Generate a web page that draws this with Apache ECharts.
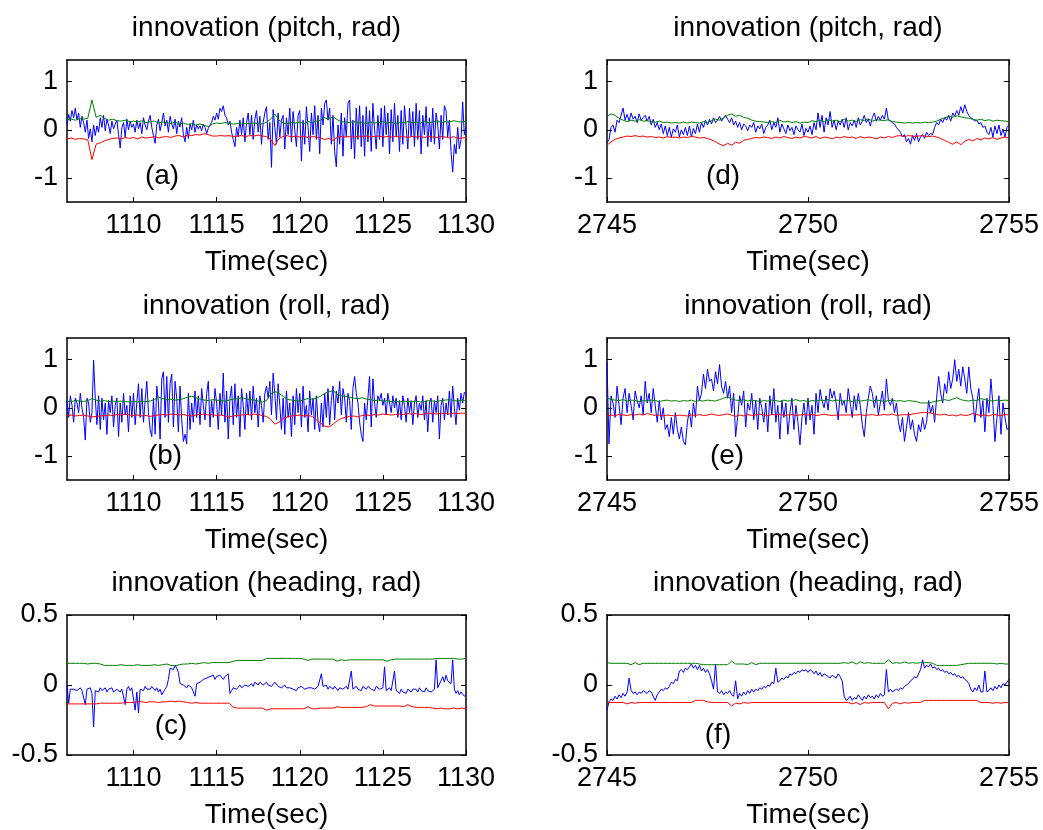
<!DOCTYPE html>
<html>
<head>
<meta charset="utf-8">
<title>innovation</title>
<script src="https://cdn.jsdelivr.net/npm/echarts@6/dist/echarts.min.js"></script>
<style>
  html, body { margin: 0; padding: 0; background: #fff; }
  #chart { width: 1043px; height: 830px; }
</style>
</head>
<body>
<div id="chart"></div>
<script>
// ---------- time spans (sec) ----------
const spanLeft = [1106, 1130];
const spanRight = [2745, 2755];

// ---------- tick values ----------
const ticksLeftX = [1110, 1115, 1120, 1125, 1130];
const ticksRightX = [2745, 2750, 2755];
const ticksAttitude = [-1, 0, 1];
const ticksHeading = [-0.5, 0, 0.5];

// ---------- (a) pitch innovation, 1106-1130 s ----------
const pitchInnovA = [
  0.10, 0.32, 0.18, 0.40, 0.25, 0.45, 0.20, 0.35, 0.05, 0.28,
  0.15, -0.05, 0.20, -0.18, 0.02, -0.25, 0.10, -0.12, 0.08, -0.05,
  0.25, 0.05, 0.30, -0.02, 0.22, 0.10, -0.08, 0.18, 0.02, 0.12,
  0.20, -0.10, -0.38, 0.05, 0.15, -0.15, 0.22, 0.00, 0.18, 0.05,
  0.12, -0.05, 0.20, 0.02, 0.15, -0.08, 0.25, 0.10, 0.00, 0.18,
  0.30, 0.05, -0.12, -0.28, 0.10, 0.22, -0.02, 0.15, 0.35, 0.08,
  0.20, -0.05, 0.28, 0.12, 0.02, 0.22, -0.08, 0.18, 0.06, 0.25,
  -0.10, -0.25, 0.05, -0.18, 0.12, 0.00, 0.20, -0.05, 0.10, 0.02,
  0.08, -0.02, 0.12, 0.05, -0.08, 0.03, 0.10, 0.15, 0.28, 0.20,
  0.35, 0.22, 0.45, 0.38, 0.50, 0.30, 0.25, 0.10, 0.18, -0.05,
  -0.20, -0.35, 0.05, -0.15, 0.20, -0.10, 0.25, -0.25, 0.15, 0.35,
  -0.10, 0.30, -0.20, 0.22, 0.40, -0.05, 0.28, -0.30, 0.15, 0.35,
  0.48, -0.20, 0.15, -0.78, 0.42, 0.05, -0.30, 0.35, -0.15, 0.20,
  0.30, -0.40, 0.25, -0.10, 0.45, -0.25, 0.38, 0.00, -0.35, 0.30,
  0.40, -0.65, 0.20, -0.30, 0.48, 0.05, -0.45, 0.35, -0.10, 0.50,
  -0.20, 0.30, -0.50, 0.45, 0.10, 0.55, 0.62, 0.20, 0.45, -0.30,
  0.30, -0.45, -0.77, 0.10, -0.30, 0.35, -0.55, 0.25, -0.15, 0.55,
  0.62, -0.40, 0.20, -0.60, 0.45, -0.20, 0.50, -0.35, 0.30, -0.55,
  0.48, -0.25, 0.40, -0.45, 0.55, 0.00, -0.40, 0.30, -0.20, 0.45,
  -0.35, 0.50, -0.10, 0.35, -0.50, 0.42, -0.25, 0.55, -0.15, 0.30,
  -0.45, 0.40, -0.30, 0.50, 0.05, -0.40, 0.45, -0.15, 0.38, -0.35,
  0.55, -0.20, 0.40, -0.50, 0.30, -0.10, 0.48, -0.35, 0.25, -0.25,
  0.45, -0.30, 0.35, 0.10, -0.40, 0.30, -0.20, 0.50, 0.40, -0.15,
  0.20, -0.45, -0.88, -0.30, -0.50, 0.05, -0.40, -0.20, 0.58, -0.10,
  0.05
];
const pitchUpperA = [
  0.21, 0.22, 0.20, 0.23, 0.22, 0.24, 0.62, 0.26, 0.30, 0.24, 0.20, 0.22,
  0.19, 0.18, 0.20, 0.17, 0.18, 0.16, 0.19, 0.15, 0.17, 0.18, 0.14, 0.16,
  0.15, 0.13, 0.16, 0.12, 0.14, 0.11, 0.13, 0.10, 0.12, 0.09, 0.07, 0.12,
  0.14, 0.13, 0.15, 0.13, 0.12, 0.13, 0.12, 0.13, 0.13, 0.14, 0.13, 0.12,
  0.16, 0.22, 0.33, 0.20, 0.14, 0.13, 0.15, 0.14, 0.16, 0.13, 0.17, 0.15,
  0.18, 0.20, 0.25, 0.22, 0.27, 0.21, 0.17, 0.16, 0.15, 0.17, 0.14, 0.15,
  0.13, 0.16, 0.14, 0.15, 0.17, 0.14, 0.16, 0.13, 0.15, 0.14, 0.17, 0.15,
  0.16, 0.14, 0.18, 0.15, 0.16, 0.19, 0.15, 0.17, 0.16, 0.19, 0.17, 0.16,
  0.18
];
const pitchLowerA = [
  -0.19, -0.17, -0.20, -0.18, -0.19, -0.21, -0.62, -0.30, -0.27, -0.23, -0.20, -0.18,
  -0.17, -0.19, -0.16, -0.18, -0.16, -0.19, -0.15, -0.17, -0.16, -0.14, -0.17, -0.15,
  -0.14, -0.16, -0.13, -0.12, -0.15, -0.11, -0.12, -0.10, -0.11, -0.08, -0.10, -0.13,
  -0.13, -0.12, -0.13, -0.12, -0.14, -0.13, -0.12, -0.14, -0.12, -0.13, -0.11, -0.13,
  -0.14, -0.20, -0.33, -0.18, -0.14, -0.12, -0.15, -0.13, -0.15, -0.14, -0.16, -0.14,
  -0.15, -0.17, -0.20, -0.18, -0.22, -0.16, -0.14, -0.15, -0.14, -0.16, -0.13, -0.14,
  -0.13, -0.15, -0.14, -0.13, -0.15, -0.14, -0.15, -0.14, -0.15, -0.14, -0.16, -0.14,
  -0.15, -0.14, -0.16, -0.14, -0.15, -0.16, -0.14, -0.15, -0.17, -0.14, -0.18, -0.17,
  -0.16
];

// ---------- (b) roll innovation, 1106-1130 s ----------
const rollInnovB = [
  0.15, -0.20, 0.25, 0.05, -0.30, 0.20, 0.10, -0.10, 0.30, 0.00,
  -0.20, -0.67, 0.20, 0.10, -0.30, -0.10, 0.99, 0.20, -0.35, 0.25,
  -0.45, 0.20, -0.25, 0.10, -0.55, 0.15, -0.10, 0.25, -0.40, 0.05,
  0.20, -0.60, 0.10, -0.30, 0.30, -0.15, 0.05, -0.50, 0.25, -0.20,
  0.30, -0.35, 0.10, 0.50, -0.20, 0.40, -0.30, 0.15, 0.55, -0.10,
  -0.45, -0.60, 0.20, -0.55, 0.45, 0.10, -0.65, 0.60, 0.75, -0.20,
  0.65, -0.30, 0.50, 0.70, -0.40, 0.55, 0.20, -0.50, 0.45, -0.25,
  -0.70, -0.55, -0.75, 0.30, -0.45, 0.10, -0.30, 0.35, -0.20, 0.25,
  -0.35, 0.40, 0.05, -0.25, 0.30, 0.55, -0.40, 0.15, -0.20, 0.40,
  0.10, -0.45, 0.30, -0.15, 0.72, -0.30, 0.35, -0.65, 0.20, 0.45,
  -0.35, 0.50, -0.20, 0.25, -0.60, 0.40, 0.05, -0.45, 0.30, -0.15,
  0.35, -0.25, 0.45, -0.10, 0.20, -0.40, 0.25, 0.05, -0.30, 0.30,
  0.45, 0.20, 0.55, -0.15, 0.72, 0.30, -0.25, 0.50, 0.05, -0.45,
  0.20, -0.55, 0.35, -0.20, 0.10, -0.60, 0.25, -0.35, 0.40, -0.10,
  0.30, -0.40, 0.45, -0.20, 0.05, -0.50, 0.35, -0.15, 0.20, -0.45,
  0.25, -0.30, -0.50, 0.10, -0.40, 0.30, -0.20, 0.40, -0.35, 0.15,
  0.45, -0.25, 0.35, 0.10, 0.55, -0.15, 0.40, 0.20, -0.30, 0.30,
  0.15, -0.45, 0.40, 0.65, 0.30, 0.10, -0.30, -0.55, -0.70, 0.10,
  -0.25, 0.20, 0.65, -0.40, 0.60, 0.10, -0.20, 0.25, 0.15, 0.30,
  0.05, 0.20, -0.15, 0.30, 0.10, -0.10, 0.25, 0.00, 0.20, -0.20,
  0.15, -0.25, 0.25, 0.05, -0.30, 0.20, -0.10, 0.15, -0.35, 0.10,
  0.25, -0.20, 0.10, -0.05, 0.25, -0.25, 0.15, -0.50, 0.10, 0.20,
  -0.30, 0.15, -0.10, 0.25, -0.65, 0.05, 0.20, -0.25, 0.10, -0.15,
  0.35, -0.20, 0.45, 0.00, -0.35, 0.20, -0.05, 0.30, 0.10, 0.32,
  0.30
];
const rollUpperB = [
  0.14, 0.13, 0.15, 0.14, 0.13, 0.15, 0.19, 0.16, 0.14, 0.15, 0.13, 0.14,
  0.13, 0.14, 0.13, 0.12, 0.13, 0.12, 0.14, 0.13, 0.14, 0.17, 0.22, 0.19,
  0.17, 0.18, 0.16, 0.17, 0.19, 0.22, 0.24, 0.21, 0.18, 0.16, 0.15, 0.17,
  0.16, 0.15, 0.14, 0.16, 0.18, 0.19, 0.21, 0.19, 0.17, 0.16, 0.14, 0.12,
  0.15, 0.28, 0.34, 0.30, 0.24, 0.18, 0.16, 0.15, 0.14, 0.17, 0.19, 0.18,
  0.20, 0.24, 0.30, 0.33, 0.36, 0.28, 0.25, 0.24, 0.22, 0.20, 0.19, 0.21,
  0.18, 0.17, 0.15, 0.16, 0.14, 0.15, 0.13, 0.14, 0.12, 0.14, 0.13, 0.12,
  0.14, 0.12, 0.13, 0.15, 0.14, 0.13, 0.15, 0.16, 0.17, 0.15, 0.14, 0.16,
  0.15
];
const rollLowerB = [
  -0.16, -0.15, -0.17, -0.16, -0.15, -0.17, -0.19, -0.18, -0.17, -0.16, -0.15, -0.16,
  -0.14, -0.15, -0.13, -0.15, -0.16, -0.15, -0.17, -0.16, -0.18, -0.16, -0.15, -0.14,
  -0.15, -0.13, -0.14, -0.15, -0.14, -0.16, -0.17, -0.15, -0.14, -0.13, -0.15, -0.14,
  -0.16, -0.15, -0.17, -0.19, -0.17, -0.16, -0.15, -0.14, -0.15, -0.13, -0.14, -0.16,
  -0.18, -0.24, -0.34, -0.30, -0.22, -0.19, -0.17, -0.16, -0.15, -0.17, -0.16, -0.18,
  -0.25, -0.32, -0.38, -0.40, -0.34, -0.27, -0.22, -0.20, -0.18, -0.17, -0.19, -0.16,
  -0.15, -0.16, -0.14, -0.15, -0.13, -0.14, -0.15, -0.14, -0.13, -0.14, -0.12, -0.13,
  -0.12, -0.14, -0.13, -0.11, -0.12, -0.13, -0.11, -0.12, -0.13, -0.11, -0.12, -0.11,
  -0.12
];

// ---------- (c) heading innovation, 1106-1130 s ----------
const headInnovC = [
  0.00, -0.13, -0.03, -0.02, -0.03, -0.02, -0.04, -0.03, -0.02, -0.04,
  -0.03, -0.14, -0.03, -0.04, -0.02, -0.06, -0.30, -0.04, -0.03, -0.05,
  -0.02, -0.04, -0.03, -0.02, -0.05, -0.03, -0.04, -0.02, -0.05, -0.04,
  -0.03, -0.04, -0.05, -0.03, -0.04, -0.14, -0.03, -0.01, -0.04, -0.02,
  -0.03, -0.18, -0.05, -0.20, -0.03, -0.02, -0.04, -0.01, -0.03, -0.02,
  -0.03, -0.01, -0.02, -0.04, -0.02, -0.05, -0.03, -0.07, -0.05, -0.03,
  -0.01, 0.04, 0.12, 0.13, 0.11, 0.14, 0.12, 0.09, 0.01, 0.02,
  0.00, -0.01, -0.02, 0.00, -0.01, -0.02, -0.01, -0.08, 0.01, 0.00,
  0.02, 0.01, 0.04, 0.03, 0.05, 0.04, 0.06, 0.05, 0.07, 0.04,
  0.06, 0.05, 0.07, 0.06, 0.04, 0.06, 0.07, 0.08, -0.06, -0.04,
  -0.02, -0.01, -0.03, -0.02, 0.00, -0.02, -0.01, 0.00, 0.01, -0.01,
  0.00, 0.01, -0.01, 0.02, 0.01, 0.00, 0.02, 0.01, 0.00, 0.01,
  0.02, 0.00, 0.01, -0.01, 0.00, 0.02, 0.01, -0.01, 0.00, -0.02,
  -0.01, 0.00, -0.02, -0.03, -0.02, -0.01, -0.03, -0.02, -0.04, -0.02,
  -0.03, -0.01, -0.02, -0.03, -0.04, -0.02, -0.03, -0.02, -0.01, -0.03,
  -0.02, -0.01, -0.02, 0.08, -0.01, -0.02, 0.00, -0.03, -0.01, -0.02,
  -0.03, -0.01, -0.02, -0.04, -0.02, -0.01, -0.03, -0.02, -0.01, -0.03,
  -0.02, 0.10, -0.03, -0.02, -0.01, -0.03, -0.02, -0.04, -0.01, -0.02,
  -0.03, -0.01, -0.02, -0.03, -0.02, -0.04, -0.01, -0.02, -0.03, -0.04,
  -0.02, 0.13, -0.04, -0.03, -0.02, -0.04, -0.03, 0.10, -0.04, -0.05,
  -0.06, -0.03, -0.05, -0.04, -0.06, -0.03, -0.04, -0.05, -0.03, -0.04,
  -0.03, -0.05, -0.02, -0.04, -0.03, -0.05, -0.02, -0.04, -0.03, -0.05,
  -0.04, -0.03, 0.18, -0.02, -0.01, 0.03, 0.06, 0.02, 0.07, 0.03,
  0.04, 0.01, 0.18, -0.03, -0.06, -0.04, -0.07, -0.05, -0.06, -0.08,
  -0.07
];
const headUpperC = [
  0.155, 0.155, 0.155, 0.155, 0.155, 0.150, 0.155, 0.155, 0.150, 0.140, 0.140, 0.140,
  0.140, 0.145, 0.140, 0.140, 0.140, 0.145, 0.140, 0.140, 0.140, 0.145, 0.140, 0.145,
  0.150, 0.140, 0.135, 0.145, 0.150, 0.150, 0.155, 0.150, 0.155, 0.160, 0.155, 0.160,
  0.160, 0.160, 0.160, 0.160, 0.170, 0.175, 0.175, 0.175, 0.175, 0.175, 0.175, 0.175,
  0.190, 0.190, 0.190, 0.190, 0.190, 0.190, 0.190, 0.190, 0.190, 0.185, 0.175, 0.185,
  0.185, 0.185, 0.185, 0.185, 0.185, 0.170, 0.180, 0.175, 0.180, 0.180, 0.180, 0.180,
  0.180, 0.180, 0.180, 0.180, 0.180, 0.170, 0.180, 0.185, 0.185, 0.185, 0.185, 0.185,
  0.185, 0.185, 0.185, 0.185, 0.185, 0.190, 0.190, 0.190, 0.190, 0.190, 0.185, 0.185,
  0.190
];
const headLowerC = [
  -0.135, -0.135, -0.135, -0.135, -0.135, -0.135, -0.135, -0.135, -0.130, -0.130, -0.130, -0.130,
  -0.130, -0.130, -0.125, -0.125, -0.125, -0.120, -0.120, -0.125, -0.120, -0.120, -0.125, -0.120,
  -0.120, -0.115, -0.120, -0.115, -0.120, -0.125, -0.130, -0.125, -0.130, -0.130, -0.130, -0.130,
  -0.130, -0.130, -0.130, -0.130, -0.160, -0.165, -0.165, -0.165, -0.165, -0.165, -0.165, -0.165,
  -0.180, -0.170, -0.170, -0.170, -0.170, -0.170, -0.170, -0.170, -0.170, -0.170, -0.155, -0.170,
  -0.170, -0.165, -0.165, -0.165, -0.165, -0.155, -0.160, -0.160, -0.160, -0.160, -0.160, -0.160,
  -0.155, -0.140, -0.150, -0.150, -0.150, -0.150, -0.150, -0.150, -0.150, -0.155, -0.140, -0.155,
  -0.160, -0.160, -0.160, -0.160, -0.165, -0.170, -0.165, -0.170, -0.170, -0.165, -0.170, -0.165,
  -0.170
];

// ---------- (d) pitch innovation, 2745-2755 s ----------
const pitchInnovD = [
  -0.27, -0.20, 0.05, 0.10, -0.05, 0.20, 0.15, 0.30, 0.45, 0.20, 0.32, 0.18, 0.35, 0.22, 0.28, 0.15, 0.33, 0.20, 0.25, 0.30,
  0.18, 0.28, 0.10, 0.22, 0.05, 0.15, 0.00, 0.12, -0.08, 0.08, -0.12, 0.05, -0.15, 0.02, -0.05, 0.10, -0.15, 0.00, -0.10, 0.05,
  -0.12, 0.08, -0.15, 0.03, -0.08, 0.12, -0.05, 0.15, 0.05, 0.20, 0.10, 0.22, 0.12, 0.25, 0.15, 0.20, 0.28, 0.18, 0.25, 0.30,
  0.22, 0.15, 0.25, 0.10, 0.18, 0.05, 0.15, 0.00, 0.12, 0.08, -0.02, 0.10, 0.05, 0.15, -0.05, 0.08, 0.02, 0.12, -0.08, 0.05,
  0.10, 0.20, 0.00, 0.15, 0.05, 0.25, -0.05, 0.12, 0.02, -0.08, 0.10, -0.02, 0.05, -0.10, 0.08, 0.00, -0.05, 0.12, -0.12, 0.03,
  -0.05, 0.08, -0.10, 0.15, 0.00, 0.35, 0.05, 0.30, -0.05, 0.25, 0.10, 0.38, 0.05, 0.20, 0.00, 0.18, 0.10, 0.22, 0.05, 0.25,
  0.00, 0.15, 0.08, 0.20, 0.05, 0.25, 0.10, 0.18, 0.30, 0.15, 0.22, 0.08, 0.25, 0.35, 0.18, 0.28, 0.20, 0.30, 0.22, 0.45,
  0.20, 0.18, 0.15, 0.12, 0.05, 0.00, -0.05, -0.15, -0.10, -0.25, -0.18, -0.30, -0.12, -0.22, -0.08, -0.25, -0.15, -0.10, -0.18, -0.05,
  -0.12, -0.08, -0.10, 0.05, 0.15, 0.10, 0.22, 0.15, 0.25, 0.20, 0.30, 0.18, 0.35, 0.28, 0.40, 0.30, 0.48, 0.35, 0.52, 0.38,
  0.30, 0.25, 0.22, 0.18, 0.20, 0.12, 0.15, 0.05, 0.08, -0.05, -0.10, 0.05, -0.15, 0.08, -0.08, 0.10, -0.12, 0.02, -0.15, 0.05,
  0.10
];
const pitchUpperD = [
  0.28, 0.33, 0.30, 0.24, 0.20, 0.17, 0.20, 0.18, 0.21, 0.18,
  0.19, 0.17, 0.16, 0.18, 0.15, 0.16, 0.14, 0.15, 0.14, 0.16,
  0.14, 0.16, 0.15, 0.14, 0.17, 0.15, 0.19, 0.22, 0.20, 0.25,
  0.30, 0.33, 0.28, 0.30, 0.26, 0.24, 0.20, 0.18, 0.17, 0.16,
  0.15, 0.17, 0.15, 0.20, 0.16, 0.18, 0.15, 0.17, 0.14, 0.16,
  0.15, 0.19, 0.17, 0.20, 0.16, 0.21, 0.18, 0.20, 0.17, 0.22,
  0.18, 0.20, 0.17, 0.21, 0.19, 0.23, 0.18, 0.21, 0.20, 0.19,
  0.21, 0.17, 0.16, 0.15, 0.14, 0.15, 0.14, 0.15, 0.14, 0.16,
  0.15, 0.16, 0.18, 0.22, 0.25, 0.28, 0.26, 0.29, 0.27, 0.25,
  0.24, 0.22, 0.20, 0.22, 0.19, 0.21, 0.18, 0.20, 0.19, 0.18,
  0.17
];
const pitchLowerD = [
  -0.32, -0.25, -0.20, -0.17, -0.15, -0.13, -0.14, -0.12, -0.14, -0.13,
  -0.15, -0.14, -0.16, -0.15, -0.17, -0.14, -0.16, -0.15, -0.17, -0.15,
  -0.16, -0.14, -0.15, -0.17, -0.16, -0.18, -0.21, -0.25, -0.30, -0.33,
  -0.28, -0.32, -0.26, -0.28, -0.22, -0.20, -0.18, -0.16, -0.17, -0.15,
  -0.16, -0.18, -0.15, -0.17, -0.14, -0.16, -0.18, -0.15, -0.17, -0.14,
  -0.15, -0.17, -0.14, -0.18, -0.15, -0.16, -0.19, -0.15, -0.17, -0.14,
  -0.16, -0.15, -0.18, -0.14, -0.17, -0.15, -0.16, -0.19, -0.15, -0.17,
  -0.14, -0.16, -0.13, -0.12, -0.14, -0.12, -0.13, -0.14, -0.12, -0.13,
  -0.14, -0.13, -0.15, -0.18, -0.22, -0.26, -0.30, -0.25, -0.31, -0.24,
  -0.20, -0.23, -0.18, -0.21, -0.17, -0.19, -0.16, -0.20, -0.17, -0.15,
  -0.17
];

// ---------- (e) roll innovation, 2745-2755 s ----------
const rollInnovE = [
  0.95, -0.75, 0.25, 0.10, -0.20, 0.45, 0.05, -0.35, 0.20, 0.40, -0.10, 0.30, 0.05, -0.25, 0.35, 0.15, 0.00, 0.25, -0.15, 0.55,
  0.10, 0.30, -0.10, 0.40, 0.05, -0.30, 0.15, -0.25, 0.00, -0.45, -0.35, -0.60, -0.20, -0.55, -0.10, -0.45, -0.65, -0.40, -0.70, -0.77,
  -0.30, -0.05, -0.40, 0.10, -0.20, 0.45, 0.15, 0.30, 0.70, 0.40, 0.80, 0.55, 0.60, 0.35, 0.75, 0.50, 0.90, 0.45, 0.30, 0.55,
  0.20, 0.45, -0.10, 0.30, -0.60, -0.20, 0.25, 0.05, 0.35, -0.40, 0.10, -0.05, 0.30, -0.25, 0.15, -0.45, 0.20, 0.00, -0.30, 0.10,
  -0.50, 0.25, -0.15, 0.40, -0.30, 0.05, -0.65, 0.15, -0.20, 0.10, -0.55, -0.10, 0.20, -0.45, 0.05, -0.30, -0.77, -0.20, 0.10, -0.35,
  0.20, -0.25, 0.05, -0.55, 0.30, -0.10, 0.38, 0.15, 0.00, 0.25, -0.05, 0.40, 0.20, 0.35, 0.10, -0.25, 0.30, 0.05, 0.15, -0.10,
  0.40, 0.10, -0.20, 0.25, -0.05, 0.30, 0.05, -0.35, -0.60, -0.10, 0.20, 0.45, 0.30, 0.00, 0.25, -0.15, 0.10, 0.35, -0.05, 0.60,
  0.15, 0.05, 0.20, -0.10, 0.10, -0.30, -0.50, -0.20, -0.70, -0.40, -0.10, -0.45, -0.25, -0.55, -0.70, -0.35, -0.50, -0.20, -0.45, -0.30,
  0.15, -0.10, 0.05, -0.30, 0.20, 0.65, 0.30, 0.10, 0.50, 0.30, 0.75, 0.40, 0.60, 1.00, 0.55, 0.80, 0.45, 0.85, 0.60, 0.30,
  0.85, 0.40, 0.20, -0.30, 0.10, 0.40, -0.20, 0.15, -0.50, 0.20, -0.10, 0.60, 0.05, -0.70, -0.20, 0.25, -0.55, 0.10, -0.20, -0.45,
  -0.40
];
const rollUpperE = [
  0.21, 0.17, 0.16, 0.15, 0.17, 0.14, 0.16, 0.15, 0.13, 0.15,
  0.14, 0.16, 0.15, 0.13, 0.15, 0.16, 0.14, 0.15, 0.13, 0.15,
  0.14, 0.16, 0.13, 0.15, 0.14, 0.16, 0.15, 0.14, 0.17, 0.20,
  0.23, 0.18, 0.16, 0.15, 0.17, 0.14, 0.16, 0.15, 0.13, 0.15,
  0.14, 0.16, 0.15, 0.13, 0.16, 0.14, 0.15, 0.17, 0.14, 0.15,
  0.13, 0.15, 0.14, 0.16, 0.15, 0.17, 0.14, 0.16, 0.15, 0.14,
  0.15, 0.13, 0.16, 0.14, 0.15, 0.17, 0.14, 0.16, 0.15, 0.13,
  0.15, 0.16, 0.14, 0.15, 0.13, 0.15, 0.14, 0.13, 0.10, 0.10,
  0.10, 0.12, 0.14, 0.15, 0.17, 0.15, 0.18, 0.21, 0.17, 0.15,
  0.14, 0.16, 0.15, 0.19, 0.17, 0.15, 0.14, 0.16, 0.15, 0.16,
  0.15
];
const rollLowerE = [
  -0.17, -0.15, -0.16, -0.14, -0.15, -0.16, -0.14, -0.15, -0.13, -0.15,
  -0.12, -0.14, -0.16, -0.15, -0.17, -0.15, -0.16, -0.17, -0.15, -0.16,
  -0.17, -0.15, -0.16, -0.14, -0.16, -0.15, -0.13, -0.15, -0.16, -0.14,
  -0.13, -0.15, -0.18, -0.15, -0.17, -0.14, -0.16, -0.15, -0.13, -0.15,
  -0.16, -0.14, -0.15, -0.13, -0.16, -0.15, -0.14, -0.16, -0.15, -0.14,
  -0.15, -0.14, -0.16, -0.15, -0.13, -0.15, -0.16, -0.15, -0.15, -0.15,
  -0.15, -0.15, -0.15, -0.14, -0.16, -0.15, -0.14, -0.16, -0.15, -0.14,
  -0.15, -0.13, -0.16, -0.15, -0.14, -0.15, -0.13, -0.12, -0.10, -0.10,
  -0.10, -0.12, -0.14, -0.15, -0.13, -0.16, -0.15, -0.17, -0.14, -0.16,
  -0.15, -0.12, -0.14, -0.16, -0.15, -0.17, -0.14, -0.15, -0.16, -0.14,
  -0.15
];

// ---------- (f) heading innovation, 2745-2755 s ----------
const headInnovF = [
  -0.18, -0.12, -0.10, -0.11, -0.08, -0.10, -0.07, -0.09, -0.06, -0.08, -0.05, 0.05, -0.04, -0.06, -0.05, -0.07, -0.05, -0.06, -0.04, -0.05,
  -0.06, -0.04, -0.05, -0.08, -0.11, -0.07, -0.05, -0.03, -0.04, -0.02, -0.03, -0.01, 0.02, 0.01, 0.04, 0.03, 0.10, 0.11, 0.09, 0.12,
  0.11, 0.13, 0.15, 0.12, 0.14, 0.11, 0.14, 0.10, 0.12, 0.09, 0.11, 0.08, 0.03, -0.03, 0.15, -0.05, -0.06, -0.04, -0.07, -0.05,
  -0.06, -0.04, -0.07, -0.08, 0.03, -0.10, -0.06, -0.08, -0.05, -0.07, -0.04, -0.06, -0.03, -0.05, -0.03, -0.04, -0.02, -0.03, -0.01, -0.02,
  0.00, -0.01, 0.02, 0.01, 0.12, 0.02, 0.03, 0.05, 0.04, 0.06, 0.05, 0.08, 0.07, 0.09, 0.08, 0.10, 0.09, 0.11, 0.10, 0.11,
  0.09, 0.11, 0.10, 0.08, 0.10, 0.07, 0.09, 0.06, 0.08, 0.07, 0.06, 0.05, 0.07, 0.06, 0.05, 0.08, 0.06, 0.03, -0.08, -0.11,
  -0.10, -0.08, -0.11, -0.09, -0.10, -0.07, -0.09, -0.11, -0.08, -0.10, -0.07, -0.09, -0.08, -0.10, -0.07, -0.09, -0.06, -0.08, -0.07, 0.11,
  -0.05, -0.03, -0.05, -0.04, -0.03, -0.04, -0.02, -0.03, -0.01, 0.00, 0.01, 0.03, 0.04, 0.06, 0.05, 0.08, 0.11, 0.18, 0.12, 0.14,
  0.13, 0.15, 0.12, 0.13, 0.11, 0.12, 0.10, 0.11, 0.09, 0.10, 0.08, 0.09, 0.07, 0.08, 0.06, 0.07, 0.05, 0.06, 0.04, 0.03,
  0.01, -0.03, -0.05, -0.02, -0.04, 0.00, -0.05, -0.05, 0.10, -0.05, -0.04, -0.02, -0.04, -0.01, -0.03, 0.00, -0.02, 0.01, 0.00, 0.02,
  0.04
];
const headUpperF = [
  0.160, 0.155, 0.155, 0.155, 0.155, 0.155, 0.145, 0.160, 0.145, 0.155,
  0.155, 0.155, 0.155, 0.155, 0.155, 0.155, 0.155, 0.155, 0.155, 0.155,
  0.155, 0.155, 0.155, 0.150, 0.145, 0.145, 0.145, 0.145, 0.145, 0.145,
  0.145, 0.170, 0.150, 0.150, 0.150, 0.145, 0.160, 0.145, 0.155, 0.155,
  0.155, 0.155, 0.155, 0.155, 0.155, 0.155, 0.155, 0.155, 0.155, 0.155,
  0.155, 0.155, 0.155, 0.155, 0.155, 0.155, 0.155, 0.155, 0.155, 0.160,
  0.155, 0.165, 0.150, 0.165, 0.155, 0.160, 0.155, 0.155, 0.155, 0.155,
  0.180, 0.155, 0.160, 0.155, 0.165, 0.155, 0.160, 0.155, 0.160, 0.160,
  0.160, 0.155, 0.140, 0.140, 0.140, 0.140, 0.140, 0.140, 0.145, 0.150,
  0.155, 0.155, 0.155, 0.155, 0.155, 0.155, 0.155, 0.150, 0.155, 0.150,
  0.150
];
const headLowerF = [
  -0.120, -0.125, -0.125, -0.125, -0.125, -0.135, -0.125, -0.130, -0.125, -0.125,
  -0.125, -0.125, -0.125, -0.125, -0.125, -0.125, -0.125, -0.125, -0.125, -0.125,
  -0.125, -0.125, -0.110, -0.110, -0.110, -0.120, -0.125, -0.125, -0.125, -0.125,
  -0.125, -0.150, -0.130, -0.135, -0.125, -0.130, -0.125, -0.125, -0.125, -0.125,
  -0.125, -0.125, -0.125, -0.125, -0.125, -0.125, -0.125, -0.125, -0.125, -0.125,
  -0.125, -0.125, -0.125, -0.125, -0.125, -0.125, -0.125, -0.125, -0.125, -0.125,
  -0.125, -0.135, -0.125, -0.140, -0.125, -0.130, -0.125, -0.125, -0.125, -0.125,
  -0.170, -0.130, -0.125, -0.135, -0.125, -0.130, -0.125, -0.125, -0.125, -0.110,
  -0.110, -0.110, -0.110, -0.110, -0.110, -0.110, -0.110, -0.110, -0.110, -0.110,
  -0.110, -0.110, -0.110, -0.125, -0.125, -0.125, -0.130, -0.125, -0.130, -0.125,
  -0.125
];

// ---------- panel layout ----------
const FONT = '"Liberation Sans", Arial, Helvetica, sans-serif';
const BLUE = '#0000ff', GREEN = '#008000', RED = '#ff0000';

const panels = [
  { title: 'innovation (pitch, rad)', tag: '(a)', tagAt: [162, 176],
    grid: { left: 67, top: 60, width: 399, height: 142 },
    span: spanLeft, xTicks: ticksLeftX, yRange: [-1.5, 1.45], yTicks: ticksAttitude,
    innov: pitchInnovA, upper: pitchUpperA, lower: pitchLowerA },
  { title: 'innovation (pitch, rad)', tag: '(d)', tagAt: [723, 176],
    grid: { left: 607, top: 60, width: 402, height: 142 },
    span: spanRight, xTicks: ticksRightX, yRange: [-1.5, 1.45], yTicks: ticksAttitude,
    innov: pitchInnovD, upper: pitchUpperD, lower: pitchLowerD },
  { title: 'innovation (roll, rad)', tag: '(b)', tagAt: [165, 456],
    grid: { left: 67, top: 338, width: 399, height: 142 },
    span: spanLeft, xTicks: ticksLeftX, yRange: [-1.5, 1.45], yTicks: ticksAttitude,
    innov: rollInnovB, upper: rollUpperB, lower: rollLowerB },
  { title: 'innovation (roll, rad)', tag: '(e)', tagAt: [727, 456],
    grid: { left: 607, top: 338, width: 402, height: 142 },
    span: spanRight, xTicks: ticksRightX, yRange: [-1.5, 1.45], yTicks: ticksAttitude,
    innov: rollInnovE, upper: rollUpperE, lower: rollLowerE },
  { title: 'innovation (heading, rad)', tag: '(c)', tagAt: [171, 726],
    grid: { left: 67, top: 615, width: 399, height: 140 },
    span: spanLeft, xTicks: ticksLeftX, yRange: [-0.5, 0.5], yTicks: ticksHeading,
    innov: headInnovC, upper: headUpperC, lower: headLowerC },
  { title: 'innovation (heading, rad)', tag: '(f)', tagAt: [718, 735],
    grid: { left: 607, top: 615, width: 402, height: 140 },
    span: spanRight, xTicks: ticksRightX, yRange: [-0.5, 0.5], yTicks: ticksHeading,
    innov: headInnovF, upper: headUpperF, lower: headLowerF }
];

// samples are evenly spaced over the panel's time span
function toPoints(values, span) {
  const dt = (span[1] - span[0]) / (values.length - 1);
  return values.map((v, i) => [span[0] + i * dt, v]);
}

// plain numbers, no thousands separators
const plain = (v) => String(v);

const frameLine = { show: true, onZero: false, lineStyle: { color: '#000', width: 1.5 } };
const innerTick = (vals) => ({ show: true, inside: true, length: 5, customValues: vals,
  lineStyle: { color: '#000', width: 1 } });

const grids = [], xAxes = [], yAxes = [], series = [], graphics = [];

panels.forEach((p, k) => {
  grids.push(Object.assign({ containLabel: false, show: false }, p.grid));
  // bottom axis with labels + top mirror axis
  xAxes.push({
    type: 'value', gridIndex: k, position: 'bottom', min: p.span[0], max: p.span[1],
    axisLine: frameLine, axisTick: innerTick(p.xTicks), splitLine: { show: false },
    axisLabel: { customValues: p.xTicks, formatter: plain, margin: 10, fontSize: 27, color: '#000',
      fontFamily: FONT, hideOverlap: false, showMinLabel: true, showMaxLabel: true },
    name: 'Time(sec)', nameLocation: 'middle', nameGap: 46,
    nameTextStyle: { fontSize: 28, color: '#000', fontFamily: FONT }
  });
  xAxes.push({
    type: 'value', gridIndex: k, position: 'top', min: p.span[0], max: p.span[1],
    axisLine: frameLine, axisTick: innerTick(p.xTicks), splitLine: { show: false },
    axisLabel: { show: false }
  });
  // left axis with labels + right mirror axis
  yAxes.push({
    type: 'value', gridIndex: k, position: 'left', min: p.yRange[0], max: p.yRange[1],
    axisLine: frameLine, axisTick: innerTick(p.yTicks), splitLine: { show: false },
    axisLabel: { customValues: p.yTicks, formatter: plain, margin: 9, fontSize: 27, color: '#000',
      fontFamily: FONT, showMinLabel: true, showMaxLabel: true }
  });
  yAxes.push({
    type: 'value', gridIndex: k, position: 'right', min: p.yRange[0], max: p.yRange[1],
    axisLine: frameLine, axisTick: innerTick(p.yTicks), splitLine: { show: false },
    axisLabel: { show: false }
  });

  const base = { type: 'line', xAxisIndex: 2 * k, yAxisIndex: 2 * k, showSymbol: false,
    symbol: 'none', animation: false, silent: true, sampling: null };
  series.push(Object.assign({}, base, { name: 'innovation', data: toPoints(p.innov, p.span),
    lineStyle: { color: BLUE, width: 1 }, itemStyle: { color: BLUE }, z: 2 }));
  series.push(Object.assign({}, base, { name: 'upper bound', data: toPoints(p.upper, p.span),
    lineStyle: { color: GREEN, width: 1 }, itemStyle: { color: GREEN }, z: 3 }));
  series.push(Object.assign({}, base, { name: 'lower bound', data: toPoints(p.lower, p.span),
    lineStyle: { color: RED, width: 1 }, itemStyle: { color: RED }, z: 3 }));

  const cx = p.grid.left + p.grid.width / 2;
  graphics.push({ type: 'text', x: cx, y: p.grid.top - 32, silent: true,
    style: { text: p.title, fontSize: 28, fontFamily: FONT, fill: '#000',
      align: 'center', verticalAlign: 'middle' } });
  graphics.push({ type: 'text', x: p.tagAt[0], y: p.tagAt[1], silent: true, z: 10,
    style: { text: p.tag, fontSize: 28, fontFamily: FONT, fill: '#000',
      align: 'center', verticalAlign: 'middle' } });
});

const chart = echarts.init(document.getElementById('chart'), null, { renderer: 'canvas' });
chart.setOption({
  backgroundColor: '#fff',
  animation: false,
  textStyle: { fontFamily: FONT },
  grid: grids,
  xAxis: xAxes,
  yAxis: yAxes,
  series: series,
  graphic: graphics
});
</script>
</body>
</html>
